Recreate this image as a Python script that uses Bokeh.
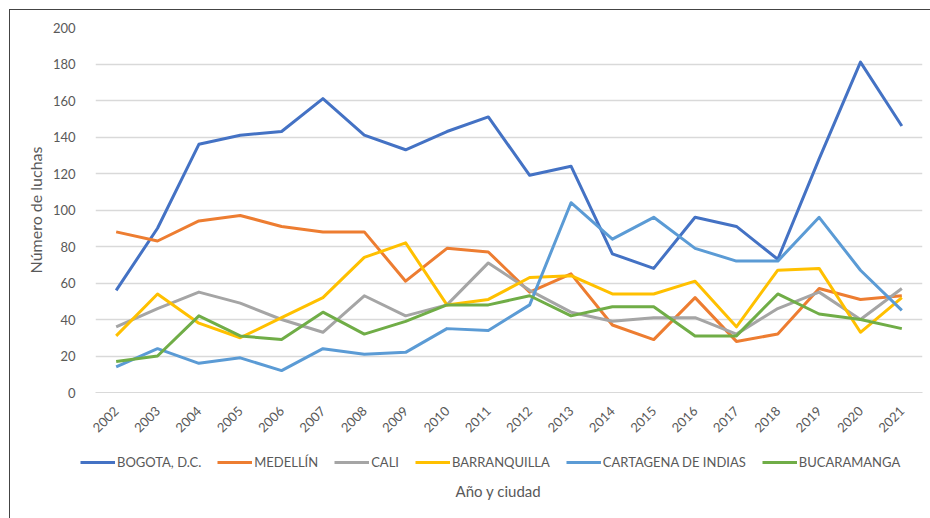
from bokeh.plotting import figure
from bokeh.models import FactorRange, Range1d, FixedTicker, Legend, LegendItem, Label
from bokeh.layouts import column
from bokeh.embed import file_html
from bokeh.resources import INLINE
import math

years = [str(y) for y in range(2002, 2022)]
bogota = [56, 90, 136, 141, 143, 161, 141, 133, 143, 151, 119, 124, 76, 68, 96, 91, 73, 128, 181, 146]
medellin = [88, 83, 94, 97, 91, 88, 88, 61, 79, 77, 55, 65, 37, 29, 52, 28, 32, 57, 51, 53]
cali = [36, 46, 55, 49, 40, 33, 53, 42, 48, 71, 56, 44, 39, 41, 41, 32, 46, 55, 40, 57]
barranquilla = [31, 54, 38, 30, 41, 52, 74, 82, 48, 51, 63, 64, 54, 54, 61, 36, 67, 68, 33, 52]
cartagena = [14, 24, 16, 19, 12, 24, 21, 22, 35, 34, 48, 104, 84, 96, 79, 72, 72, 96, 67, 45]
bucaramanga = [17, 20, 42, 31, 29, 44, 32, 39, 48, 48, 53, 42, 47, 47, 31, 31, 54, 43, 40, 35]

series = [
    ("BOGOTA, D.C.", bogota, "#4472C4"),
    ("MEDELLÍN", medellin, "#ED7D31"),
    ("CALI", cali, "#A5A5A5"),
    ("BARRANQUILLA", barranquilla, "#FFC000"),
    ("CARTAGENA DE INDIAS", cartagena, "#5B9BD5"),
    ("BUCARAMANGA", bucaramanga, "#70AD47"),
]
y_ticks = [0, 20, 40, 60, 80, 100, 120, 140, 160, 180, 200]

FONT = "Lato"
GRAY = "#595959"

p = figure(width=920, height=430, x_range=FactorRange(factors=years),
           y_range=Range1d(0, 200), output_backend="svg", toolbar_location=None,
           min_border_left=85, min_border_right=8, min_border_top=17, min_border_bottom=48)
p.frame_align = False
p.outline_line_color = None
p.xgrid.grid_line_color = None
p.ygrid.grid_line_color = "#D9D9D9"
p.ygrid.grid_line_width = 1.3

for name, vals, col in series:
    p.line(years, vals, line_color=col, line_width=3, line_join="round")

p.yaxis.ticker = FixedTicker(ticks=y_ticks)
p.yaxis.axis_line_color = None
p.yaxis.major_tick_line_color = None
p.yaxis.minor_tick_line_color = None
p.yaxis.major_label_standoff = 14
p.yaxis.major_label_text_font = FONT
p.yaxis.major_label_text_font_size = "13px"
p.yaxis.major_label_text_color = GRAY
p.yaxis.axis_label = "Número de luchas"
p.yaxis.axis_label_text_font = FONT
p.yaxis.axis_label_text_font_size = "16px"
p.yaxis.axis_label_text_font_style = "normal"
p.yaxis.axis_label_text_color = GRAY
p.yaxis.axis_label_standoff = 5

p.xaxis.axis_line_color = "#D9D9D9"
p.xaxis.major_tick_line_color = None
p.xaxis.minor_tick_line_color = None
p.xaxis.major_label_orientation = math.pi / 4
p.xaxis.major_label_standoff = 10
p.xaxis.major_label_text_font = FONT
p.xaxis.major_label_text_font_size = "13px"
p.xaxis.major_label_text_color = GRAY

# legend / axis-title strip
p2 = figure(width=920, height=78, x_range=Range1d(0, 920), y_range=Range1d(0, 78),
            output_backend="svg", toolbar_location=None,
            min_border_left=0, min_border_right=0, min_border_top=0, min_border_bottom=0)
p2.frame_align = False
p2.axis.visible = False
p2.grid.grid_line_color = None
p2.outline_line_color = None

nan = float("nan")
items = []
for name, vals, col in series:
    r = p2.line([nan], [nan], line_color=col, line_width=3)
    items.append(LegendItem(label=name, renderers=[r]))

legend = Legend(items=items, orientation="horizontal", location=(70, 47),
                glyph_width=35, glyph_height=18, label_standoff=2, spacing=16,
                padding=4, margin=0, border_line_color=None, background_fill_alpha=0,
                label_text_font=FONT, label_text_font_size="13px", label_text_color=GRAY)
p2.add_layout(legend, "center")

p2.add_layout(Label(x=488, y=28, x_units="screen", y_units="screen",
                    text="Año y ciudad", anchor="center", text_align="center",
                    text_baseline="middle", text_font=FONT, text_font_size="15px",
                    text_color=GRAY))

layout = column(p, p2, spacing=0)
layout.styles = {"border-top": "1px solid #444", "border-left": "1px solid #444",
                 "margin-left": "9px", "margin-top": "9px"}

open("out.html", "w").write(file_html(layout, INLINE))
